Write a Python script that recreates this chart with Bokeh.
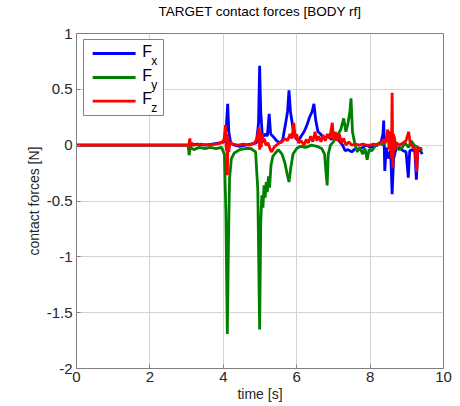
from bokeh.plotting import figure
from bokeh.models import FixedTicker, Range1d, LinearAxis
from bokeh.core.properties import value
from bokeh.embed import file_html
from bokeh.resources import INLINE

TITLE = "TARGET contact forces [BODY rf]"
X_LABEL = "time [s]"
Y_LABEL = "contact forces [N]"
X_TICKS = [0, 2, 4, 6, 8, 10]
Y_TICKS = [-2, -1.5, -1, -0.5, 0, 0.5, 1]
Y_TICK_LABELS = ["-2", "-1.5", "-1", "-0.5", "0", "0.5", "1"]
SERIES_NAMES = ["F", "F", "F"]
SUBSCRIPTS = ["x", "y", "z"]
COLORS = ["#0000ff", "#008000", "#ff0000"]

FX = [(0, 0), (3.05, 0), (3.08, 0.01), (3.12, 0), (3.3, 0.01), (3.5, 0), (3.7, 0.01), (3.9, 0.02),
      (4.02, 0.03), (4.08, 0.15), (4.12, 0.37), (4.15, 0.12), (4.2, 0.02), (4.3, 0.0), (4.45, -0.01),
      (4.6, 0.0), (4.75, 0.01), (4.9, 0.02), (4.96, 0.2), (4.99, 0.71), (5.02, 0.3), (5.06, 0.1),
      (5.1, 0.08), (5.15, 0.1), (5.2, 0.08), (5.25, 0.28), (5.29, 0.1), (5.35, 0.08), (5.45, 0.04),
      (5.55, 0.02), (5.62, 0.05), (5.7, 0.2), (5.75, 0.3), (5.79, 0.49), (5.83, 0.3), (5.9, 0.15),
      (5.98, 0.06), (6.05, 0.04), (6.12, 0.08), (6.2, 0.12), (6.28, 0.18), (6.35, 0.25), (6.42, 0.3),
      (6.47, 0.37), (6.52, 0.22), (6.58, 0.12), (6.65, 0.1), (6.75, 0.06), (6.85, 0.08), (6.95, 0.05),
      (7.05, 0.1), (7.15, 0.04), (7.25, 0.0), (7.32, -0.05), (7.4, -0.04), (7.5, -0.06), (7.6, -0.03),
      (7.7, -0.04), (7.8, -0.02), (7.9, 0.0), (8.0, -0.02), (8.1, -0.01), (8.2, 0.0), (8.3, 0.03),
      (8.35, 0.1), (8.37, 0.22), (8.4, -0.23), (8.44, -0.02), (8.5, -0.12), (8.56, -0.05), (8.6, -0.44),
      (8.64, -0.12), (8.7, -0.04), (8.8, -0.02), (8.9, -0.05), (8.98, -0.06), (9.04, -0.29), (9.08, -0.05),
      (9.15, -0.04), (9.22, -0.06), (9.26, -0.31), (9.3, -0.06), (9.36, -0.04), (9.42, -0.08)]

FY = [(0, 0), (3.04, 0), (3.07, -0.09), (3.1, -0.02), (3.2, -0.04), (3.35, -0.02), (3.5, -0.03),
      (3.65, -0.02), (3.8, -0.03), (3.95, -0.02), (4.03, -0.08), (4.07, -0.6), (4.11, -1.69), (4.14, -0.9),
      (4.17, -0.3), (4.22, -0.12), (4.3, -0.07), (4.45, -0.04), (4.6, -0.03), (4.75, -0.03), (4.88, -0.06),
      (4.94, -0.4), (4.99, -1.65), (5.02, -0.7), (5.05, -0.45), (5.08, -0.56), (5.11, -0.36), (5.14, -0.47),
      (5.17, -0.33), (5.2, -0.42), (5.23, -0.28), (5.26, -0.38), (5.3, -0.18), (5.35, -0.1), (5.42, -0.07),
      (5.5, -0.04), (5.6, -0.08), (5.68, -0.16), (5.74, -0.26), (5.79, -0.33), (5.84, -0.2), (5.9, -0.08),
      (6.0, -0.03), (6.1, -0.01), (6.25, -0.02), (6.4, 0.0), (6.55, -0.01), (6.68, -0.03), (6.76, -0.08),
      (6.8, -0.25), (6.83, -0.36), (6.86, -0.08), (6.92, 0.0), (7.0, 0.03), (7.1, 0.08), (7.2, 0.14),
      (7.28, 0.24), (7.34, 0.12), (7.4, 0.2), (7.45, 0.3), (7.48, 0.42), (7.52, 0.12), (7.58, 0.02),
      (7.65, -0.06), (7.72, -0.02), (7.8, -0.08), (7.86, -0.03), (7.92, -0.13), (7.97, -0.04), (8.05, -0.05),
      (8.15, 0.0), (8.25, 0.02), (8.35, 0.0), (8.45, 0.06), (8.52, 0.12), (8.58, 0.03), (8.65, 0.08),
      (8.72, -0.02), (8.8, -0.04), (8.88, -0.02), (8.95, 0.02), (9.05, -0.02), (9.12, 0.04), (9.2, 0.0),
      (9.3, -0.02), (9.42, -0.05)]

FZ = [(0, 0), (3.06, 0), (3.09, 0.06), (3.11, -0.03), (3.14, 0.02), (3.2, 0), (3.4, 0.01), (3.6, 0),
      (3.8, 0.01), (3.95, 0.02), (4.02, 0.05), (4.06, 0.18), (4.08, -0.05), (4.1, 0.1), (4.11, -0.27),
      (4.13, 0.08), (4.15, -0.06), (4.18, 0.03), (4.25, 0.01), (4.4, 0.0), (4.55, 0.01), (4.7, 0.0),
      (4.85, 0.02), (4.92, 0.06), (4.95, 0.12), (4.97, 0.16), (4.99, -0.04), (5.01, 0.13), (5.03, -0.02),
      (5.06, 0.1), (5.09, 0.02), (5.12, 0.06), (5.16, 0.0), (5.22, 0.02), (5.28, -0.04), (5.32, -0.06),
      (5.38, -0.02), (5.45, 0.0), (5.52, 0.02), (5.6, 0.03), (5.68, 0.06), (5.75, 0.04), (5.82, 0.1),
      (5.87, 0.06), (5.92, 0.2), (5.96, 0.06), (6.0, 0.1), (6.05, 0.02), (6.12, 0.04), (6.2, 0.0),
      (6.26, 0.05), (6.32, 0.02), (6.38, 0.08), (6.44, 0.03), (6.5, 0.12), (6.55, 0.04), (6.6, 0.08),
      (6.66, 0.03), (6.72, 0.09), (6.78, 0.04), (6.84, 0.1), (6.9, 0.06), (6.97, 0.2), (7.0, 0.05),
      (7.05, 0.12), (7.1, 0.04), (7.16, 0.1), (7.22, 0.02), (7.28, 0.06), (7.34, 0.0), (7.42, 0.03),
      (7.5, 0.0), (7.6, 0.01), (7.7, 0.0), (7.8, 0.01), (7.9, 0.0), (8.0, 0.0), (8.1, 0.01), (8.2, 0.0),
      (8.28, 0.02), (8.36, 0.05), (8.42, 0.02), (8.48, 0.14), (8.52, -0.04), (8.55, 0.12), (8.58, -0.12),
      (8.6, 0.47), (8.62, -0.2), (8.64, 0.1), (8.67, -0.05), (8.72, 0.02), (8.8, 0.0), (8.9, 0.02),
      (8.98, 0.04), (9.05, 0.12), (9.09, 0.02), (9.15, -0.01), (9.22, -0.03), (9.27, -0.24), (9.3, -0.02),
      (9.36, -0.03), (9.42, -0.03)]

FONT = "Liberation Sans"
TXT = "#262626"
AXC = "#808080"

p = figure(width=460, height=406, output_backend="svg", toolbar_location=None,
           x_range=Range1d(0, 10), y_range=Range1d(-2, 1),
           min_border_left=76, min_border_right=17, min_border_top=33, min_border_bottom=38)

p.outline_line_color = AXC
p.outline_line_width = 1

# title carried by a label-only axis above the frame
title_ax = LinearAxis(ticker=FixedTicker(ticks=[]), axis_label=TITLE, axis_line_color=None,
                      major_tick_line_color=None, minor_tick_line_color=None,
                      major_label_standoff=0, axis_label_standoff=15,
                      axis_label_text_font=FONT, axis_label_text_font_size="13.5px",
                      axis_label_text_font_style="normal", axis_label_text_color="#000000")
p.add_layout(title_ax, "above")

for ax in [p.below[0], p.left[0]]:
    ax.major_tick_in = 4
    ax.major_tick_out = 0
    ax.minor_tick_in = 0
    ax.minor_tick_out = 0
    ax.axis_line_color = AXC
    ax.major_tick_line_color = AXC
    ax.axis_label_text_font = FONT
    ax.axis_label_text_font_size = "14px"
    ax.axis_label_text_font_style = "normal"
    ax.axis_label_text_color = TXT
    ax.major_label_text_font = FONT
    ax.major_label_text_font_size = "15px"
    ax.major_label_text_color = TXT

p.below[0].ticker = FixedTicker(ticks=X_TICKS)
p.left[0].ticker = FixedTicker(ticks=Y_TICKS)
p.left[0].major_label_overrides = {v: s for v, s in zip(Y_TICKS, Y_TICK_LABELS)}
p.below[0].axis_label = X_LABEL
p.left[0].axis_label = Y_LABEL
p.below[0].major_label_standoff = 3
p.below[0].axis_label_standoff = 1
p.left[0].major_label_standoff = 4
p.left[0].axis_label_standoff = 2

p.xgrid.ticker = FixedTicker(ticks=X_TICKS)
p.ygrid.ticker = FixedTicker(ticks=Y_TICKS)
p.grid.grid_line_color = "#d4d4d4"
p.grid.grid_line_width = 1

for data, color in zip([FX, FY, FZ], COLORS):
    t, v = zip(*data)
    p.line(list(t), list(v), line_color=color, line_width=2.8)

# ---- legend (drawn by hand so that the labels can carry subscripts) ----
# layout positions of the legend box, in axis units
LEG_BOX = dict(left=0.19, right=2.37, top=0.946, bottom=0.266)
LEG_LINE_X0, LEG_LINE_X1 = 0.44, 1.61
LEG_ROW_Y = [0.821, 0.606, 0.395]
LEG_TEXT_X = 1.79
LEG_SUB_DX, LEG_SUB_DY = 0.25, -0.065

p.quad(left=[LEG_BOX["left"]], right=[LEG_BOX["right"]], top=[LEG_BOX["top"]], bottom=[LEG_BOX["bottom"]],
       fill_color="#ffffff", line_color=AXC, line_width=1)
p.segment(x0=[LEG_LINE_X0] * 3, x1=[LEG_LINE_X1] * 3, y0=LEG_ROW_Y, y1=LEG_ROW_Y,
          line_color=COLORS, line_width=2.8)
p.text(x=[LEG_TEXT_X] * 3, y=[yy + 0.02 for yy in LEG_ROW_Y], text=SERIES_NAMES,
       text_font=value(FONT), text_font_size="16px", text_color="#000000", text_baseline="middle")
p.text(x=[LEG_TEXT_X + LEG_SUB_DX] * 3, y=[yy + LEG_SUB_DY for yy in LEG_ROW_Y], text=SUBSCRIPTS,
       text_font=value(FONT), text_font_size="12px", text_color="#000000", text_baseline="middle")

open("out.html", "w").write(file_html(p, INLINE))
